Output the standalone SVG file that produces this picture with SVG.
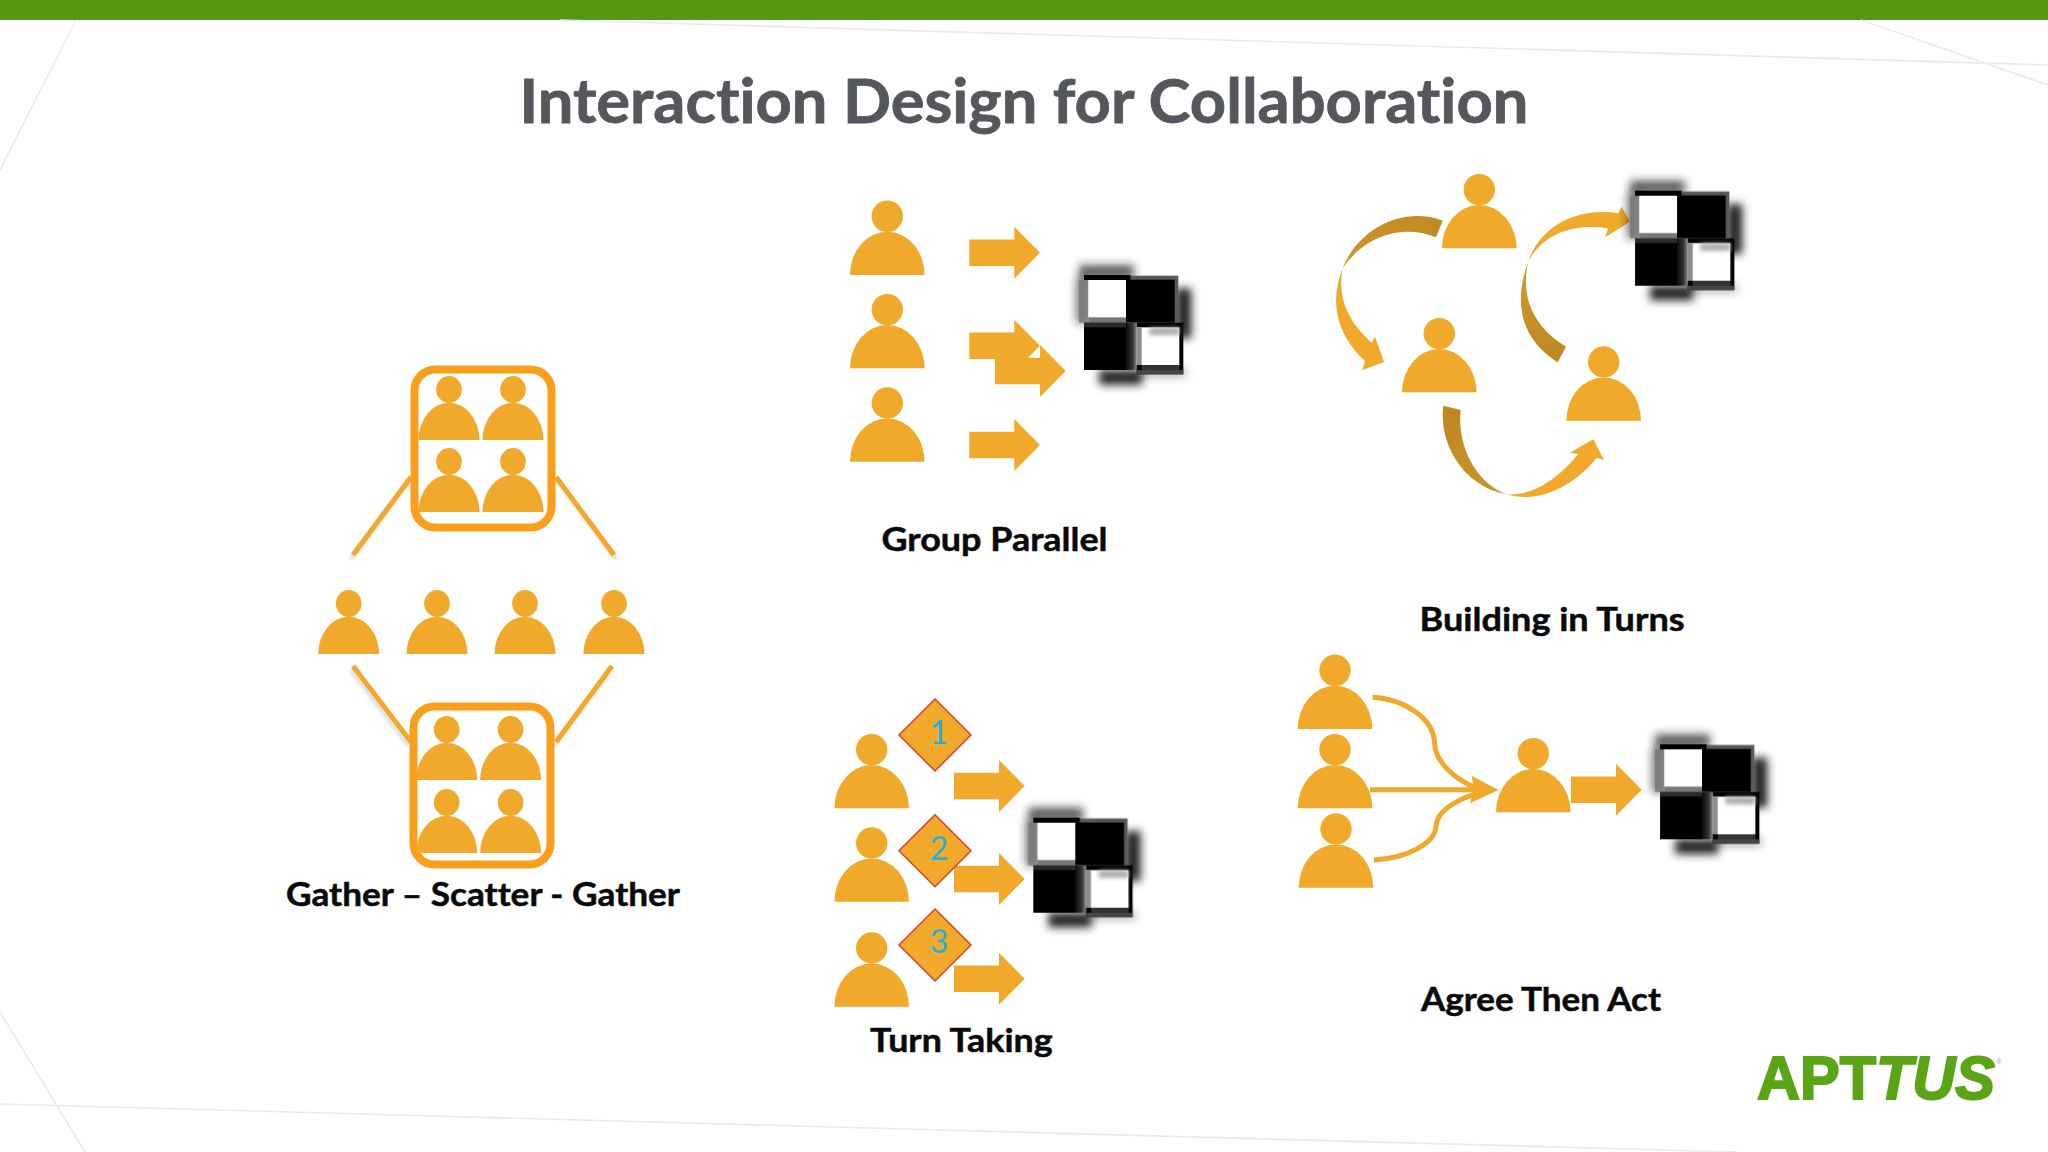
<svg xmlns="http://www.w3.org/2000/svg" width="2048" height="1152" viewBox="0 0 2048 1152">
<style>
text{font-variant-ligatures:none}
.o{fill:#f0a92a}
.lbl{font-family:"Lato","Noto Sans",sans-serif;font-weight:700;font-size:33px;fill:#0a0a0a;stroke:#0a0a0a;stroke-width:.5}
.num{font-family:"Lato","Noto Sans",sans-serif;font-size:32px;fill:#2aaed6;text-anchor:middle}
.box{fill:none;stroke:#f99f1c;stroke-width:8}
.seg{stroke:#f0a92a;stroke-width:5;fill:none}
.sh{stroke:#999;stroke-width:5;fill:none;opacity:.3}
.dia{fill:#f0a92a;stroke:#d6452b;stroke-width:1.5}
.bg{stroke:#e9ebe9;stroke-width:1.6;fill:none}
.flow{stroke:#f0a92a;stroke-width:15;fill:none}
</style>
<defs>
<filter id="b4" x="-80%" y="-80%" width="260%" height="260%"><feGaussianBlur stdDeviation="13"/></filter>
<filter id="b1" x="-30%" y="-30%" width="160%" height="160%"><feGaussianBlur stdDeviation="1.5"/></filter>
<filter id="b2" x="-30%" y="-60%" width="160%" height="220%"><feGaussianBlur stdDeviation="7"/></filter>
<linearGradient id="sg" x1="0" x2="1" y1="0" y2="0"><stop offset="0" stop-color="#0c0c0c"/><stop offset=".6" stop-color="#333"/><stop offset="1" stop-color="#8a8a8a"/></linearGradient>
<linearGradient id="gA" gradientUnits="userSpaceOnUse" x1="368" y1="200" x2="68" y2="325"><stop offset="0" stop-color="#c08a22"/><stop offset="1" stop-color="#cd952a"/></linearGradient>
<linearGradient id="gB" gradientUnits="userSpaceOnUse" x1="725" y1="585" x2="625" y2="305"><stop offset="0" stop-color="#bd8822"/><stop offset="1" stop-color="#d09a2a"/></linearGradient>
<linearGradient id="gC" gradientUnits="userSpaceOnUse" x1="395" y1="745" x2="560" y2="1003"><stop offset="0" stop-color="#bd8822"/><stop offset="1" stop-color="#cc962a"/></linearGradient>
<g id="p"><circle class="o" cx="0" cy="-58.7" r="15.7"/><path class="o" d="M-37.3 0A37.3 43.3 0 0 1 37.3 0Z"/></g>
<path id="a" class="o" d="M0-13.3H45V-26L70.7 0 45 26V13.3H0Z"/>
<g id="ic" transform="scale(.3333)">
<g filter="url(#b4)" fill="#222">
<rect x="-15" y="-30" width="165" height="40" opacity=".75"/>
<rect x="276" y="40" width="46" height="150"/>
<rect x="45" y="285" width="130" height="44"/>
<rect x="-24" y="10" width="34" height="135" opacity=".6"/>
<rect x="165" y="280" width="140" height="24" opacity=".35"/>
</g>
<rect x="-15" y="15" width="28" height="128" fill="#777" opacity=".8"/>
<rect x="140" y="2" width="143" height="141" fill="#5a5a5a"/>
<rect x="126" y="14" width="146" height="129" fill="#000"/>
<rect x="0" y="0" width="140" height="15" fill="#000"/>
<rect x="13" y="15" width="113" height="112" fill="#fff"/>
<rect x="13" y="127" width="113" height="16" fill="#777"/>
<rect x="0" y="143" width="126" height="142" fill="#000"/>
<rect x="0" y="143" width="126" height="14" fill="#2a2a2a"/>
<rect x="126" y="143" width="32" height="142" fill="url(#sg)"/>
<rect x="158" y="143" width="140" height="155" fill="#000"/>
<rect x="158" y="157" width="128" height="113" fill="#fff"/>
<rect x="196" y="158" width="90" height="22" fill="#aaa" filter="url(#b2)"/>
<rect x="158" y="157" width="15" height="113" fill="#8c8c8c"/>
<rect x="158" y="285" width="140" height="13" fill="#444"/>
<rect x="173" y="270" width="113" height="15" fill="#333"/>
</g>
</defs>
<rect width="2048" height="1152" fill="#fff"/>
<rect width="2048" height="20" fill="#54990f"/>
<g id="background-lines">
<path class="bg" d="M75 22L0 170M560 20L2048 65M1861 20L2048 85M0 1012L85 1152M0 1104L1737 1152"/>
</g>
<text id="title" x="1024" y="123" text-anchor="middle" textLength="1009" lengthAdjust="spacingAndGlyphs" style="font-family:'Lato','Noto Sans',sans-serif;font-weight:700;font-size:61px;fill:#54575b;stroke:#54575b;stroke-width:.8">Interaction Design for Collaboration</text>

<g id="connectors">
<g id="gather-lines">
<path class="sh" filter="url(#b1)" d="M409 481L351 559M558 481L616 559M351 670L409 746M610 670L554 746"/>
<path class="seg" d="M411 477L353 555M556 477L614 555M353 666L411 742M612 666L556 742"/>
</g>
<g id="parallel-arrows">
<use href="#a" x="969.3" y="252.7"/><use href="#a" x="969.3" y="345.7"/><use href="#a" x="995" y="371"/><use href="#a" x="969.3" y="445"/>
</g>
<g id="turns-arrows" transform="translate(1320 160) scale(.3333)">
<path fill="url(#gA)" d="M368 182C240 135 110 215 68 325C120 245 230 185 348 232Z"/>
<path class="o" d="M68 325C30 420 45 520 135 603L127 630L192 606L165 530L155 548C90 490 50 420 68 325Z"/>
<path fill="url(#gB)" d="M738 560C640 500 600 410 625 305C585 410 590 530 713 607Z"/>
<path class="o" d="M625 305C660 200 770 140 895 160L905 140L930 185L855 232L865 205C760 190 670 220 625 305Z"/>
<path fill="url(#gC)" d="M370 737C355 850 430 980 560 1003C470 970 410 860 422 750Z"/>
<path class="o" d="M560 1003C660 1035 770 970 830 893L852 900L820 838L750 878L775 882C720 950 640 1010 560 1003Z"/>
</g>
<g id="taking-arrows">
<use href="#a" x="954" y="786"/><use href="#a" x="954" y="879"/><use href="#a" x="954" y="978.7"/>
</g>
<g id="agree-arrows">
<g transform="translate(1280 640) scale(.3333)">
<path class="flow" d="M278 172C380 178 462 240 464 310C466 370 530 420 590 445"/>
<path class="flow" d="M270 449H600"/>
<path class="flow" d="M282 660C380 655 465 610 468 560C470 510 530 480 590 460"/>
<path class="o" d="M655 450L575 407L582 449L570 490Z"/>
</g>
<use href="#a" x="1571" y="789.7"/>
</g>
</g>

<g id="gather-top">
<rect class="box" x="414.5" y="369.5" width="137" height="158" rx="21"/>
<use href="#p" transform="translate(449 440) scale(.817 .86)"/><use href="#p" transform="translate(513 440) scale(.817 .86)"/>
<use href="#p" transform="translate(449 512) scale(.817 .86)"/><use href="#p" transform="translate(513 512) scale(.817 .86)"/>
</g>
<g id="scatter-row">
<use href="#p" transform="translate(348.7 654) scale(.817 .86)"/><use href="#p" transform="translate(437 654) scale(.817 .86)"/>
<use href="#p" transform="translate(525 654) scale(.817 .86)"/><use href="#p" transform="translate(614 654) scale(.817 .86)"/>
</g>
<g id="gather-bottom">
<rect class="box" x="413.5" y="706.5" width="137" height="158" rx="21"/>
<use href="#p" transform="translate(446.7 780) scale(.817 .86)"/><use href="#p" transform="translate(510.6 780) scale(.817 .86)"/>
<use href="#p" transform="translate(446.7 853) scale(.817 .86)"/><use href="#p" transform="translate(510.6 853) scale(.817 .86)"/>
</g>
<text class="lbl" x="286" y="906" textLength="394" lengthAdjust="spacingAndGlyphs">Gather – Scatter - Gather</text>

<g id="group-parallel">
<use href="#p" x="887.3" y="275"/><use href="#p" x="887.3" y="368.3"/><use href="#p" x="887.3" y="461.7"/>
<use href="#ic" x="1084" y="275"/>
</g>
<text class="lbl" x="881.5" y="551" textLength="226" lengthAdjust="spacingAndGlyphs">Group Parallel</text>

<g id="building-in-turns">
<use href="#p" x="1479.3" y="248.3"/><use href="#p" x="1439.3" y="392.3"/><use href="#p" x="1603.7" y="420.7"/>
<use href="#ic" x="1635" y="190.7"/>
</g>
<text class="lbl" x="1419.6" y="631" textLength="265" lengthAdjust="spacingAndGlyphs">Building in Turns</text>

<g id="turn-taking">
<use href="#p" x="871.7" y="808.3"/><use href="#p" x="871.7" y="901.7"/><use href="#p" x="871.7" y="1006.7"/>
<g id="d1"><path class="dia" d="M935 699L971 735L935 771L899 735Z"/><text class="num" x="939" y="744">1</text></g>
<g id="d2"><path class="dia" d="M935 814.7L971 850.7L935 886.7L899 850.7Z"/><text class="num" x="939" y="860">2</text></g>
<g id="d3"><path class="dia" d="M935 909L971 945L935 981L899 945Z"/><text class="num" x="939" y="953">3</text></g>
<use href="#ic" x="1033.3" y="817.7"/>
</g>
<text class="lbl" x="870" y="1052" textLength="182.600" lengthAdjust="spacingAndGlyphs">Turn Taking</text>

<g id="agree-then-act">
<use href="#p" x="1335" y="729"/><use href="#p" x="1335" y="808.3"/><use href="#p" x="1336" y="887.7"/>
<use href="#p" x="1533.3" y="812.3"/>
<use href="#ic" x="1660" y="744.3"/>
</g>
<text class="lbl" x="1421" y="1011" textLength="240" lengthAdjust="spacingAndGlyphs">Agree Then Act</text>

<g id="logo">
<text x="1757" y="1099" textLength="238" lengthAdjust="spacingAndGlyphs" style="font-family:'Liberation Sans',sans-serif;font-weight:700;font-size:61px;fill:#5aa516;stroke:#5aa516;stroke-width:2">APT<tspan font-style="italic">TUS</tspan></text>
<text x="1996" y="1064" style="font-family:'Liberation Sans',sans-serif;font-size:8px;fill:#aaa">®</text>
</g>
</svg>
